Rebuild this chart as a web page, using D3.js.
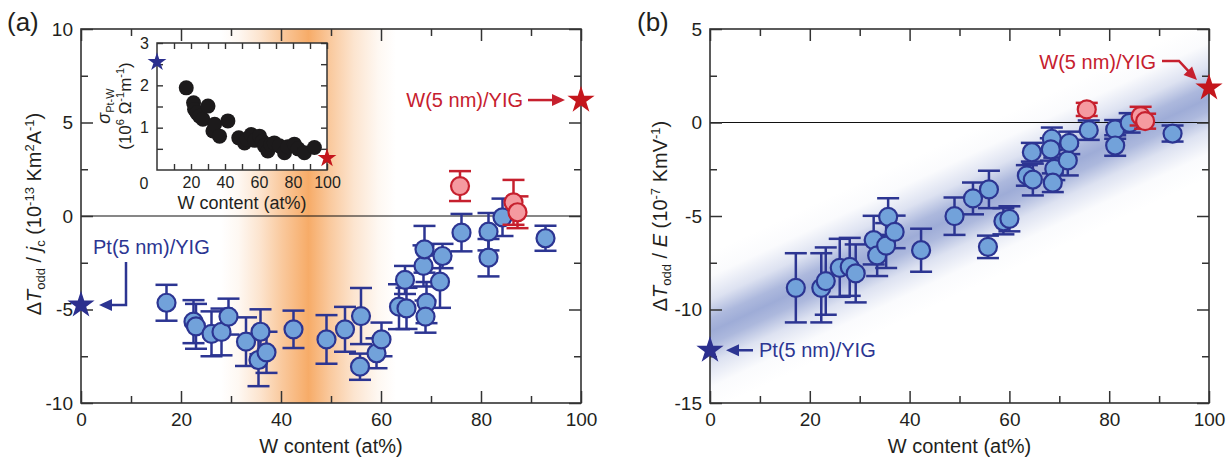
<!DOCTYPE html>
<html><head><meta charset="utf-8">
<script src="https://cdn.jsdelivr.net/npm/d3@7"></script>
<style>
body{margin:0;background:#fff}
svg{font-family:"Liberation Sans",Arial,Helvetica,sans-serif}
</style></head><body>
<svg id="c" width="1229" height="457"></svg>
<script>
// ---------------- data ----------------
const xMajorTicks=[0,20,40,60,80,100];
const xMinorTicks=[10,30,50,70,90];
const yTicksA=[-10,-5,0,5,10];
const yMinorA=[-7.5,-2.5,2.5,7.5];
const yTicksB=[-15,-10,-5,0,5];
const yMinorB=[-12.5,-7.5,-2.5,2.5];
const insetXLabels=[20,40,60,80,100];
const insetXMinor=[10,30,50,70,90];
const insetYTicks=[1,2,3];
const insetYMinor=[0.5,1.5,2.5];

// panel (a): [W content, dT/jc, error]
const aBlue=[[17.1,-4.64,0.96],[22.5,-5.65,1.15],[23.0,-5.9,1.2],[26.1,-6.3,1.2],[28.1,-6.2,1.25],
[29.5,-5.38,0.96],[33.0,-6.72,1.3],[35.5,-7.7,1.4],[35.9,-6.19,1.2],[37.1,-7.29,1.1],[42.5,-6.06,1.0],
[49.1,-6.6,1.3],[52.8,-6.06,1.2],[56.0,-5.35,1.5],[55.8,-8.06,0.7],[59.1,-7.34,0.8],[60.1,-6.6,0.9],
[63.6,-4.85,1.2],[65.1,-4.94,1.1],[64.8,-3.42,0.75],[68.5,-2.67,1.1],[68.7,-1.78,1.25],[69.1,-4.63,1.1],
[68.9,-5.38,0.86],[71.8,-3.51,1.4],[72.3,-2.14,0.65],[76.1,-0.89,1.0],[81.5,-0.84,1.0],[81.5,-2.23,1.0],
[84.3,-0.07,1.0],[92.9,-1.19,0.67]];
const aPink=[[75.8,1.6,0.8],[86.5,0.73,1.2],[87.3,0.2,0.85]];
const aStarPt=[0,-4.76];
const aStarW=[100,6.2];

// inset: conductivity
const insetX=[17.2,21.5,22.1,23.5,25,27,30,32.9,33.9,36.8,41.7,48.1,51.5,53,55.4,57.5,60.3,62,63.2,65.2,67,69,72,75,77,80.8,83,86.7,92.6];
const insetY=[1.94,1.59,1.43,1.35,1.27,1.2,1.51,0.92,1.08,0.80,1.16,0.76,0.64,0.72,0.84,0.7,0.80,0.68,0.57,0.45,0.6,0.64,0.57,0.41,0.55,0.61,0.5,0.41,0.53];
const insetStarPt=[0,2.55];
const insetStarW=[100,0.28];

// panel (b): [W content, dT/E, error]
const bBlue=[[17.2,-8.84,1.85],[22.3,-8.84,1.85],[23.2,-8.48,1.8],[26,-7.77,1.55],[28,-7.72,1.55],
[29.2,-8.07,1.55],[32.8,-6.29,1.3],[33.5,-7.11,1.1],[35.3,-6.58,1.2],[35.7,-5.05,1.0],[37,-5.85,0.87],
[42.3,-6.83,1.15],[49,-5.01,1.0],[52.7,-4.06,0.85],[55.7,-6.65,0.6],[55.9,-3.58,1.0],[58.8,-5.28,0.7],
[60,-5.15,0.67],[63.5,-2.83,0.55],[64.7,-3.05,0.85],[64.5,-1.59,0.5],[68.5,-0.87,0.6],[68.3,-1.44,0.6],
[69,-2.48,0.6],[68.7,-3.22,0.5],[71.7,-2.03,0.8],[72,-1.09,0.6],[75.9,-0.41,0.52],[81.2,-0.37,0.5],
[81.2,-1.23,0.55],[84.1,-0.02,0.52],[92.7,-0.59,0.43]];
const bPink=[[75.5,0.70,0.35],[86.3,0.34,0.5],[87.2,0.07,0.4]];
const bStarPt=[0,-12.18];
const bStarW=[100,1.85];
const bBandLine=[[0,-11.2],[100,1.3]];
const aBandRange=[28,63];

// ---------------- style ----------------
const BLUE_FILL="#72a2da", BLUE_STROKE="#2c3592";
const PINK_FILL="#f59aa0", PINK_STROKE="#c6202e";
const STAR_BLUE="#2b2f8e", STAR_RED="#c4161c";
const AX="#333";

const svg=d3.select('#c');
const defs=svg.append('defs');

const xA=d3.scaleLinear().domain([0,100]).range([81,581]);
const yA=d3.scaleLinear().domain([-10,10]).range([403,29]);
const xB=d3.scaleLinear().domain([0,100]).range([710,1209]);
const yB=d3.scaleLinear().domain([-15,5]).range([403,29]);
const xI=d3.scaleLinear().domain([0,100]).range([157,327]);
const yI=d3.scaleLinear().domain([0,3]).range([170,43]);

const fmt=d=>String(d);
const bellBlue=[[0,0],[0.15,0.05],[0.3,0.35],[0.42,0.85],[0.5,1],[0.58,0.85],[0.7,0.35],[0.85,0.05],[1,0]];
const bellOrange=[[0,0],[0.1,0.08],[0.22,0.3],[0.35,0.62],[0.5,0.95],[0.62,0.62],[0.76,0.3],[0.9,0.08],[1,0]];

function gradient(id,x1,y1,x2,y2,color,stops){
  const g=defs.append('linearGradient').attr('id',id).attr('gradientUnits','userSpaceOnUse')
    .attr('x1',x1).attr('y1',y1).attr('x2',x2).attr('y2',y2);
  g.selectAll('stop').data(stops).join('stop').attr('offset',d=>d[0])
    .attr('stop-color',color).attr('stop-opacity',d=>d[1]);
}

function frame(g,x,y,xMaj,xMin,yMaj,yMin,o){
  const [x0,x1]=x.range(), [y0,y1]=y.range();
  const L=o.maj, l=o.min;
  const style=s=>{s.select('.domain').remove();s.selectAll('line').attr('stroke',AX).attr('stroke-width',o.tw);
    s.selectAll('text').attr('fill','#231f20').attr('font-size',o.fs);};
  g.append('g').attr('transform',`translate(0,${y0})`).call(d3.axisBottom(x).tickValues(xMaj).tickSize(-L).tickPadding(o.padx).tickFormat(fmt)).call(style);
  g.append('g').attr('transform',`translate(0,${y0})`).call(d3.axisBottom(x).tickValues(xMin).tickSize(-l).tickFormat('')).call(style);
  g.append('g').attr('transform',`translate(0,${y1})`).call(d3.axisTop(x).tickValues(xMaj).tickSize(-L).tickFormat('')).call(style);
  g.append('g').attr('transform',`translate(0,${y1})`).call(d3.axisTop(x).tickValues(xMin).tickSize(-l).tickFormat('')).call(style);
  g.append('g').attr('transform',`translate(${x0},0)`).call(d3.axisLeft(y).tickValues(yMaj).tickSize(-L).tickPadding(o.pady).tickFormat(fmt)).call(style);
  g.append('g').attr('transform',`translate(${x0},0)`).call(d3.axisLeft(y).tickValues(yMin).tickSize(-l).tickFormat('')).call(style);
  g.append('g').attr('transform',`translate(${x1},0)`).call(d3.axisRight(y).tickValues(yMaj).tickSize(-L).tickFormat('')).call(style);
  g.append('g').attr('transform',`translate(${x1},0)`).call(d3.axisRight(y).tickValues(yMin).tickSize(-l).tickFormat('')).call(style);
  g.append('rect').attr('x',x0).attr('y',y1).attr('width',x1-x0).attr('height',y0-y1)
    .attr('fill','none').attr('stroke',AX).attr('stroke-width',o.fw);
  return g;
}

function points(g,data,x,y,fill,stroke){
  const cap=11;
  const eb=g.append('g').attr('stroke',stroke).attr('stroke-width',2.5).attr('fill','none');
  eb.selectAll('line.v').data(data).join('line').attr('class','v')
    .attr('x1',d=>x(d[0])).attr('x2',d=>x(d[0])).attr('y1',d=>y(d[1]-d[2])).attr('y2',d=>y(d[1]+d[2]));
  eb.selectAll('line.t').data(data).join('line').attr('class','t')
    .attr('x1',d=>x(d[0])-cap).attr('x2',d=>x(d[0])+cap).attr('y1',d=>y(d[1]+d[2])).attr('y2',d=>y(d[1]+d[2]));
  eb.selectAll('line.b').data(data).join('line').attr('class','b')
    .attr('x1',d=>x(d[0])-cap).attr('x2',d=>x(d[0])+cap).attr('y1',d=>y(d[1]-d[2])).attr('y2',d=>y(d[1]-d[2]));
  g.append('g').selectAll('circle').data(data).join('circle')
    .attr('cx',d=>x(d[0])).attr('cy',d=>y(d[1])).attr('r',9)
    .attr('fill',fill).attr('stroke',stroke).attr('stroke-width',2.2);
}

function star(g,p,x,y,size,color){
  g.append('path').attr('d',d3.symbol(d3.symbolStar,size)())
    .attr('transform',`translate(${x(p[0])},${y(p[1])})`).attr('fill',color);
}

function arrowHead(g,tip,angle,color,len=13,hw=6){
  g.append('path').attr('d',`M0,0 L${-len},${-hw} L${-len},${hw} Z`)
    .attr('transform',`translate(${tip[0]},${tip[1]}) rotate(${angle})`).attr('fill',color);
}

function richText(g,parts,fs,sub){
  const t=g.append('text').attr('text-anchor','middle').attr('font-size',fs).attr('fill','#231f20');
  const off={sub:4,sup:-7};
  let cur=0;
  parts.forEach(p=>{
    const [txt,kind,ital]=p;
    const target=kind?off[kind]:0;
    const sp=t.append('tspan').text(txt);
    if(target!==cur) sp.attr('dy',target-cur);
    if(kind) sp.attr('font-size',sub);
    if(ital) sp.attr('font-style','italic');
    cur=target;
  });
  return t;
}

// ---------------- panel (a) ----------------
const gA=svg.append('g');
gradient('orangeBand',xA(aBandRange[0]),0,xA(aBandRange[1]),0,'#f6a760',bellOrange);
gA.append('rect').attr('x',xA(0)).attr('y',yA(10)).attr('width',xA(100)-xA(0)).attr('height',yA(-10)-yA(10))
  .attr('fill','url(#orangeBand)');
gA.append('line').attr('x1',xA(0)).attr('x2',xA(100)).attr('y1',yA(0)).attr('y2',yA(0)).attr('stroke','#111').attr('stroke-width',1.2);
points(gA,aBlue,xA,yA,BLUE_FILL,BLUE_STROKE);
points(gA,aPink,xA,yA,PINK_FILL,PINK_STROKE);
frame(gA,xA,yA,xMajorTicks,xMinorTicks,yTicksA,yMinorA,{maj:12,min:7,tw:1.5,fw:1.6,fs:19,padx:10,pady:8});
star(gA,aStarPt,xA,yA,230,STAR_BLUE);
star(gA,aStarW,xA,yA,230,STAR_RED);

// annotations (a)
{
  const ps=[xA(aStarW[0]),yA(aStarW[1])];
  gA.append('text').attr('x',ps[0]-58).attr('y',ps[1]+7).attr('text-anchor','end').attr('font-size',20).attr('fill',PINK_STROKE).text('W(5 nm)/YIG');
  gA.append('line').attr('x1',ps[0]-53).attr('x2',ps[0]-25).attr('y1',ps[1]).attr('y2',ps[1]).attr('stroke',PINK_STROKE).attr('stroke-width',2.5);
  arrowHead(gA,[ps[0]-16,ps[1]],0,PINK_STROKE);
  const pb=[xA(aStarPt[0]),yA(aStarPt[1])];
  gA.append('text').attr('x',pb[0]+12).attr('y',pb[1]-51).attr('font-size',20).attr('fill',BLUE_STROKE).text('Pt(5 nm)/YIG');
  gA.append('path').attr('d',`M${pb[0]+45},${pb[1]-43} V${pb[1]} H${pb[0]+28}`).attr('fill','none').attr('stroke',BLUE_STROKE).attr('stroke-width',2.5);
  arrowHead(gA,[pb[0]+18,pb[1]],180,BLUE_STROKE);
}

// y label (a)
richText(gA.append('g').attr('transform','translate(41,214) rotate(-90)'),
  [['Δ'],['T',null,true],['odd','sub'],[' / '],['j',null,true],['c','sub'],[' (10'],['-13','sup'],[' Km'],['2','sup'],['A'],['-1','sup'],[')']],20,13);
gA.append('text').attr('x',(xA(0)+xA(100))/2).attr('y',453).attr('text-anchor','middle').attr('font-size',20).attr('fill','#231f20').text('W content (at%)');
svg.append('text').attr('x',7).attr('y',31).attr('font-size',26).attr('fill','#231f20').text('(a)');

// ---------------- inset ----------------
const gI=svg.append('g');
gI.append('rect').attr('x',xI(0)).attr('y',yI(3)).attr('width',xI(100)-xI(0)).attr('height',yI(0)-yI(3)).attr('fill','#fff');
gI.append('g').selectAll('circle').data(insetX).join('circle')
  .attr('cx',d=>xI(d)).attr('cy',(d,i)=>yI(insetY[i])).attr('r',7.5).attr('fill','#1c1a1b');
frame(gI,xI,yI,insetXLabels,insetXMinor,insetYTicks,insetYMinor,{maj:6,min:6,tw:1.4,fw:1.5,fs:16,padx:7,pady:8});
gI.append('text').attr('x',xI(0)-13).attr('y',yI(0)+19).attr('text-anchor','middle').attr('font-size',16).attr('fill','#231f20').text('0');
star(gI,insetStarPt,xI,yI,110,STAR_BLUE);
star(gI,insetStarW,xI,yI,110,STAR_RED);
gI.append('text').attr('x',(xI(0)+xI(100))/2).attr('y',209).attr('text-anchor','middle').attr('font-size',18).attr('fill','#231f20').text('W content (at%)');
richText(gI.append('g').attr('transform','translate(110,106) rotate(-90)'),[['σ',null,true],['Pt-W','sub']],18,11);
richText(gI.append('g').attr('transform','translate(131,106) rotate(-90)'),[['(10'],['6','sup'],[' Ω'],['-1','sup'],['m'],['-1','sup'],[')']],17,11);

// ---------------- panel (b) ----------------
const gB=svg.append('g');
defs.append('clipPath').attr('id','clipB').append('rect')
  .attr('x',xB(0)).attr('y',yB(5)).attr('width',xB(100)-xB(0)).attr('height',yB(-15)-yB(5));
{
  const P0=[xB(bBandLine[0][0]),yB(bBandLine[0][1])], P1=[xB(bBandLine[1][0]),yB(bBandLine[1][1])];
  const dx=P1[0]-P0[0], dy=P1[1]-P0[1], L=Math.hypot(dx,dy);
  const n=[-dy/L,dx/L], M=[(P0[0]+P1[0])/2,(P0[1]+P1[1])/2], w=72;
  gradient('blueBand',M[0]-n[0]*w,M[1]-n[1]*w,M[0]+n[0]*w,M[1]+n[1]*w,'#9eacd7',bellBlue);
}
gB.append('rect').attr('clip-path','url(#clipB)').attr('x',xB(0)).attr('y',yB(5)).attr('width',xB(100)-xB(0)).attr('height',yB(-15)-yB(5))
  .attr('fill','url(#blueBand)');
gB.append('line').attr('x1',xB(0)).attr('x2',xB(100)).attr('y1',yB(0)).attr('y2',yB(0)).attr('stroke','#111').attr('stroke-width',1.2);
points(gB,bBlue,xB,yB,BLUE_FILL,BLUE_STROKE);
points(gB,bPink,xB,yB,PINK_FILL,PINK_STROKE);
frame(gB,xB,yB,xMajorTicks,xMinorTicks,yTicksB,yMinorB,{maj:12,min:7,tw:1.5,fw:1.6,fs:19,padx:10,pady:8});
star(gB,bStarPt,xB,yB,230,STAR_BLUE);
star(gB,bStarW,xB,yB,230,STAR_RED);
{
  const ps=[xB(bStarW[0]),yB(bStarW[1])];
  gB.append('text').attr('x',ps[0]-53).attr('y',ps[1]-19).attr('text-anchor','end').attr('font-size',20).attr('fill',PINK_STROKE).text('W(5 nm)/YIG');
  gB.append('path').attr('d',`M${ps[0]-47},${ps[1]-27} H${ps[0]-30} L${ps[0]-18},${ps[1]-14}`).attr('fill','none').attr('stroke',PINK_STROKE).attr('stroke-width',2.5);
  arrowHead(gB,[ps[0]-12,ps[1]-8],45,PINK_STROKE);
  const pb=[xB(bStarPt[0]),yB(bStarPt[1])];
  gB.append('text').attr('x',pb[0]+49).attr('y',pb[1]+7).attr('font-size',20).attr('fill',BLUE_STROKE).text('Pt(5 nm)/YIG');
  gB.append('line').attr('x1',pb[0]+43).attr('x2',pb[0]+25).attr('y1',pb[1]).attr('y2',pb[1]).attr('stroke',BLUE_STROKE).attr('stroke-width',2.5);
  arrowHead(gB,[pb[0]+16,pb[1]],180,BLUE_STROKE);
}
richText(gB.append('g').attr('transform','translate(667,216) rotate(-90)'),
  [['Δ'],['T',null,true],['odd','sub'],[' / '],['E',null,true],[' (10'],['-7','sup'],[' KmV'],['-1','sup'],[')']],20,13);
gB.append('text').attr('x',(xB(0)+xB(100))/2).attr('y',453).attr('text-anchor','middle').attr('font-size',20).attr('fill','#231f20').text('W content (at%)');
svg.append('text').attr('x',637).attr('y',31).attr('font-size',26).attr('fill','#231f20').text('(b)');
</script>
</body></html>
